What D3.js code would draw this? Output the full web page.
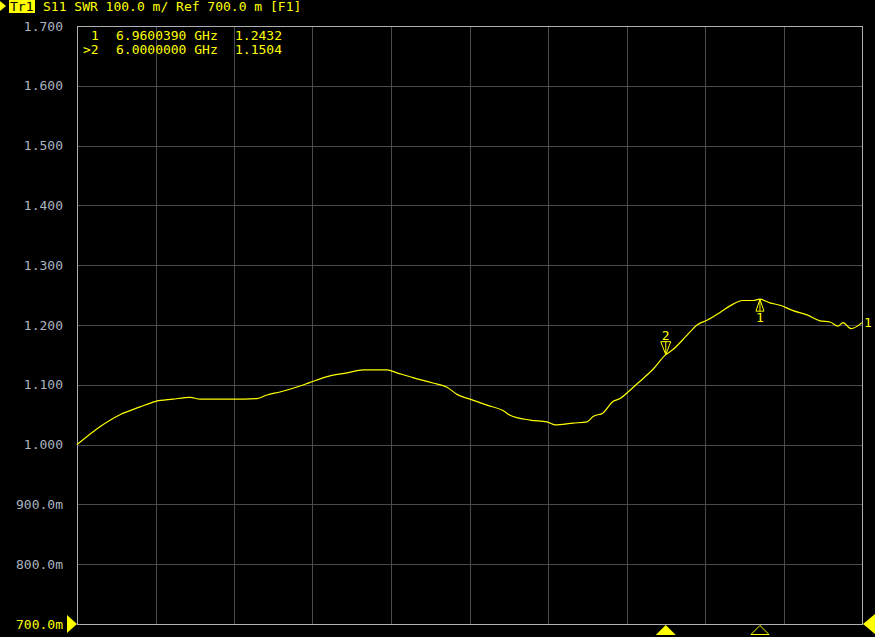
<!DOCTYPE html>
<html>
<head>
<meta charset="utf-8">
<script src="https://cdn.jsdelivr.net/npm/d3@7"></script>
<style>
html,body{margin:0;padding:0;background:#000;}
svg{display:block;}
text{font-family:"DejaVu Sans Mono",monospace;font-size:13px;}
</style>
</head>
<body>
<svg id="chart" width="875" height="637"></svg>
<script>
// ---- data ----
const freqGHz = [0.000,0.234,0.438,0.642,0.795,0.978,1.152,1.254,1.427,1.590,1.834,1.936,2.069,2.273,2.375,2.578,2.752,2.915,3.159,3.261,3.424,3.628,3.771,3.873,4.005,4.178,4.341,4.413,4.617,4.790,4.871,5.055,5.198,5.259,5.361,5.462,5.534,5.636,5.738,5.870,6.000,6.074,6.217,6.319,6.420,6.553,6.655,6.787,6.889,6.960,7.062,7.164,7.297,7.440,7.572,7.674,7.755,7.806,7.888,8.000];
const swr = [1.000,1.030,1.050,1.063,1.072,1.076,1.079,1.076,1.076,1.076,1.077,1.083,1.088,1.098,1.104,1.115,1.120,1.125,1.125,1.120,1.112,1.103,1.096,1.084,1.076,1.066,1.057,1.049,1.041,1.038,1.033,1.036,1.038,1.047,1.053,1.072,1.077,1.091,1.106,1.126,1.1504,1.159,1.183,1.200,1.208,1.221,1.232,1.241,1.241,1.2432,1.237,1.233,1.224,1.217,1.207,1.205,1.198,1.204,1.194,1.204];
const yTicks = [0.7,0.8,0.9,1.0,1.1,1.2,1.3,1.4,1.5,1.6,1.7];
const yTickLabels = ["700.0m","800.0m","900.0m","1.000","1.100","1.200","1.300","1.400","1.500","1.600","1.700"];
const xTicks = [0,0.8,1.6,2.4,3.2,4.0,4.8,5.6,6.4,7.2,8.0];
const markerIds = ["1","2"];
const markerFreq = [6.9600390,6.0000000];
const markerSwr = [1.2432,1.1504];
const markerFreqText = ["6.9600390 GHz","6.0000000 GHz"];
const markerValText = ["1.2432","1.1504"];
const headerText = "S11 SWR 100.0 m/ Ref 700.0 m [F1]";

// ---- layout ----
const L=77, R=862, T=26, B=624;
const YEL="#ffff00";
const svg=d3.select("#chart");
const x=d3.scaleLinear().domain([0,8]).range([L,R]);
const y=d3.scaleLinear().domain([0.7,1.7]).range([B,T]);

// grid
svg.append("g").selectAll("line.v").data(xTicks.slice(1,-1)).join("line")
  .attr("x1",d=>Math.round(x(d))+0.5).attr("x2",d=>Math.round(x(d))+0.5)
  .attr("y1",T).attr("y2",B).attr("stroke","#4a4a4a").attr("stroke-width",1);
svg.append("g").selectAll("line.h").data(yTicks.slice(1,-1)).join("line")
  .attr("x1",L).attr("x2",R)
  .attr("y1",d=>Math.round(y(d))+0.5).attr("y2",d=>Math.round(y(d))+0.5)
  .attr("stroke","#4a4a4a").attr("stroke-width",1);
// frame
svg.append("rect").attr("x",L+0.5).attr("y",T+0.5).attr("width",R-L).attr("height",B-T)
  .attr("fill","none").attr("stroke","#b0b0b0").attr("stroke-width",1);

// y labels
svg.append("g").selectAll("text").data(yTicks).join("text")
  .attr("x",63).attr("y",d=>y(d)).attr("dy","0.36em").attr("text-anchor","end")
  .attr("fill",(d,i)=>i===0?YEL:"#aab4c0")
  .text((d,i)=>yTickLabels[i]);

// header
svg.append("path").attr("d","M0,1 L6,6 L0,11 Z").attr("fill",YEL);
svg.append("rect").attr("x",9).attr("y",0).attr("width",26).attr("height",13).attr("fill",YEL);
svg.append("text").attr("x",10).attr("y",11).attr("fill","#000").text("Tr1");
svg.append("text").attr("x",43).attr("y",11).attr("fill",YEL).text(headerText);

// marker table
const rows=svg.append("g");
markerIds.forEach((id,i)=>{
  const yy=40+i*14;
  rows.append("text").attr("x",i===1?83:91).attr("y",yy).attr("fill",YEL).text(i===1?">"+id:id);
  rows.append("text").attr("x",116).attr("y",yy).attr("fill",YEL).text(markerFreqText[i]);
  rows.append("text").attr("x",235).attr("y",yy).attr("fill",YEL).text(markerValText[i]);
});

// trace
const line=d3.line().x((d,i)=>x(freqGHz[i])).y(d=>y(d)).curve(d3.curveMonotoneX);
svg.append("path").datum(swr).attr("d",line).attr("fill","none")
  .attr("stroke",YEL).attr("stroke-width",1.2);

// marker 1 (inactive): triangle below trace, label below
{
  const mx=x(markerFreq[0]), my=y(markerSwr[0]);
  svg.append("path").attr("d",`M${mx},${my} L${mx-4},${my+12} L${mx+4},${my+12} Z M${mx},${my} L${mx},${my+12}`)
    .attr("fill","none").attr("stroke",YEL).attr("stroke-width",1);
  svg.append("text").attr("x",mx).attr("y",my+23).attr("text-anchor","middle").attr("fill",YEL).text(markerIds[0]);
}
// marker 2 (active): triangle above trace, label above
{
  const mx=x(markerFreq[1]), my=y(markerSwr[1]);
  svg.append("path").attr("d",`M${mx},${my} L${mx-5},${my-13} L${mx+5},${my-13} Z M${mx},${my} L${mx},${my-13}`)
    .attr("fill","none").attr("stroke",YEL).attr("stroke-width",1);
  svg.append("text").attr("x",mx).attr("y",my-15).attr("text-anchor","middle").attr("fill",YEL).text(markerIds[1]);
}
// trace number at right end
svg.append("text").attr("x",R+2).attr("y",y(swr[swr.length-1])+4).attr("fill",YEL).text("1");

// reference triangles
svg.append("path").attr("d",`M${L},${B} L${L-10},${B-9} L${L-10},${B+9} Z`).attr("fill",YEL);
svg.append("path").attr("d",`M${R+1},${B} L${R+13},${B-10} L${R+13},${B+10} Z`).attr("fill",YEL);
// bottom marker indicators
{
  const m2=x(markerFreq[1]), m1=x(markerFreq[0]);
  svg.append("path").attr("d",`M${m2},${B+1} L${m2-10},${B+11} L${m2+10},${B+11} Z`).attr("fill",YEL);
  svg.append("path").attr("d",`M${m1},${B+1.5} L${m1-9},${B+10.5} L${m1+9},${B+10.5} Z`).attr("fill","none").attr("stroke",YEL).attr("stroke-width",1);
}
</script>
</body>
</html>
